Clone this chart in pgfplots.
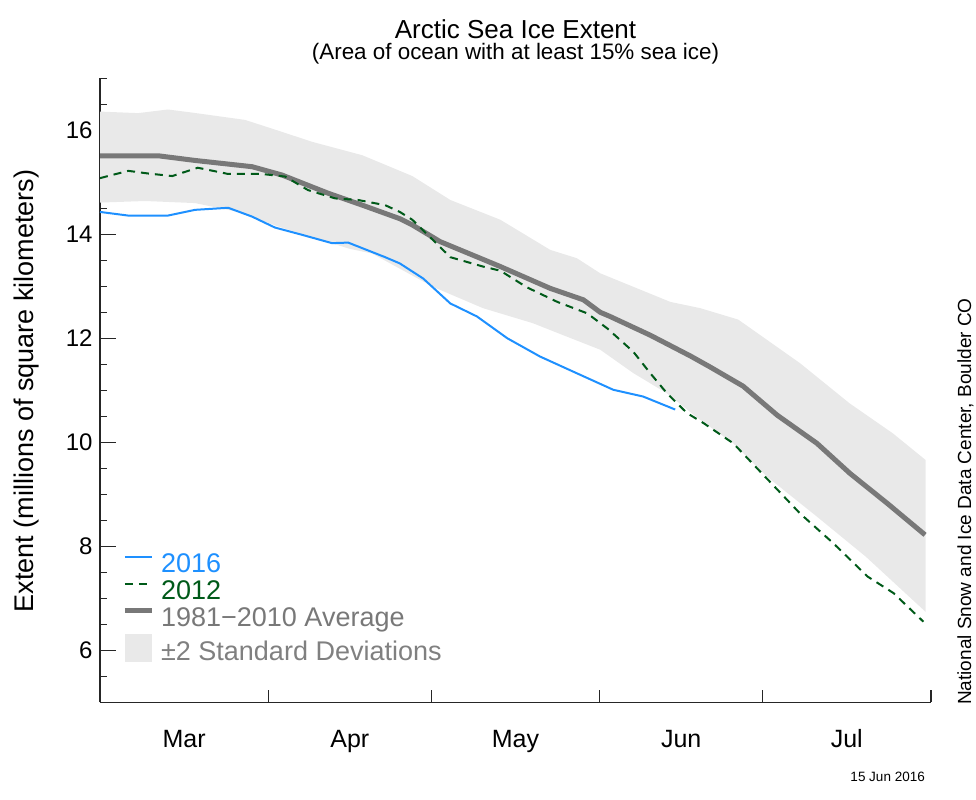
\documentclass[border=0pt]{standalone}
\usepackage{pgfplots}
\pgfplotsset{compat=1.18}
\usepackage{pgfplotstable}
\usepgfplotslibrary{fillbetween}
\usepackage{fontspec}
\setmainfont{Liberation Sans}

\definecolor{c2016}{RGB}{30,144,255}
\definecolor{c2012}{RGB}{0,90,25}
\definecolor{cavg}{RGB}{120,120,120}
\definecolor{cband}{RGB}{233,233,233}
\definecolor{csd}{RGB}{128,128,128}

\pgfplotstableread{
d v
0 15.51
10.7 15.51
17.5 15.42
28.0 15.30
33.5 15.14
42.0 14.79
48.3 14.56
55.2 14.30
57.5 14.18
62.6 13.86
73.7 13.38
82.9 12.96
89.0 12.74
92.1 12.50
93.9 12.42
101.3 12.06
108.7 11.66
112.3 11.45
118.4 11.08
124.7 10.52
132 9.98
138.1 9.40
144.9 8.83
151.9 8.22
}\avgtab

\pgfplotstableread{
d v
0 16.36
7 16.33
12.5 16.40
17 16.34
26.7 16.20
33.5 15.97
39.0 15.78
48.3 15.52
57.5 15.12
64.5 14.66
73.7 14.28
82.9 13.70
87.8 13.54
92.1 13.25
98.2 12.99
105 12.70
110.5 12.58
117.5 12.36
122.8 11.97
128.9 11.52
138 10.75
146 10.17
152 9.66
}\uptab

\pgfplotstableread{
d v
0 14.61
8.3 14.64
17.5 14.60
25.4 14.43
32.8 14.15
42.0 13.85
46.0 13.72
50.1 13.63
61.3 12.99
70.5 12.58
79.7 12.29
86.0 12.03
92.1 11.78
98.2 11.33
104.4 10.94
110.5 10.43
116.6 9.98
122.8 9.34
132 8.57
141 7.80
152 6.74
}\lotab

\pgfplotstableread{
d v
0 14.43
5.2 14.36
12.5 14.36
17.5 14.47
23.6 14.51
28.0 14.34
32.2 14.13
37.2 13.99
42.7 13.83
45.7 13.84
52.5 13.56
55.2 13.44
59.5 13.15
64.5 12.67
69.4 12.42
75.0 12.00
81.0 11.65
87.1 11.36
94.5 11.01
100.0 10.88
105.9 10.63
}\tabsixteen

\pgfplotstableread{
d v
0 15.08
5.2 15.22
8.8 15.17
13.3 15.12
18.0 15.28
23.6 15.16
29.8 15.16
34.1 15.11
38.3 14.85
43.3 14.69
47.5 14.66
52.5 14.56
55.2 14.43
57.5 14.28
61.3 13.89
64.5 13.56
70.5 13.38
73.7 13.30
78.6 12.98
84.2 12.70
89.7 12.48
93.4 12.19
98.2 11.74
101.3 11.33
104.4 10.94
108.1 10.56
111.1 10.37
116.6 9.98
122.8 9.30
128.9 8.63
135 8.06
141.3 7.42
146.1 7.10
151.6 6.55
}\tabtwelve

\begin{document}
\begin{tikzpicture}
\begin{axis}[
  at={(100bp,97.7bp)}, anchor=south west,
  scale only axis, width=831bp, height=624bp,
  xmin=0, xmax=153, ymin=5, ymax=17,
  axis x line*=bottom, axis y line*=left,
  axis line style={line width=1.4bp, black!85},
  clip=false,
  /pgf/number format/assume math mode=true,
  tick align=inside,
  major tick length=16bp, minor tick length=7bp,
  tick style={line width=1.3bp, black!85},
  xtick={15.5,46,76.5,107,137.5},
  xticklabels={Mar,Apr,May,Jun,Jul},
  xtick style={draw=none},
  extra x ticks={31,61,92,122,153},
  extra x tick labels={},
  extra x tick style={major tick length=12bp, xtick style={draw=black!85, line width=1.3bp}},
  xticklabel style={font=\fontsize{25bp}{25bp}\selectfont, yshift=-24bp},
  ytick={6,8,10,12,14,16},
  minor ytick={5.5,6,...,17},
  yticklabel style={font=\fontsize{24bp}{24bp}\selectfont, xshift=-4bp},
  legend cell align=left,
  reverse legend,
  legend style={at={(0.027,0.2393)}, anchor=north west, draw=none, fill=none,
    inner sep=0pt, outer sep=0pt, row sep=0pt,
    font=\fontsize{27bp}{27bp}\selectfont,
    nodes={inner sep=0pt, text height=19.5bp, text depth=7.5bp},
    /tikz/every odd column/.append style={column sep=7bp}},
]
\addplot[name path=up, draw=none, forget plot] table[x=d,y=v] {\uptab};
\addplot[name path=lo, draw=none, forget plot] table[x=d,y=v] {\lotab};
\addplot[fill=cband, draw=none,
  legend image code/.code={\fill[cband] (0bp,-7.5bp) rectangle (26.7bp,21bp);}]
  fill between[of=up and lo];
\addlegendentry{\textcolor{csd}{±2 Standard Deviations}}
\addplot[cavg, line width=5bp,
  legend image code/.code={\draw[cavg, line width=5bp] (0bp,9.7bp) -- (26.7bp,9.7bp);}]
  table[x=d,y=v] {\avgtab};
\addlegendentry{\textcolor{cavg}{1981−2010 Average}}
\addplot[c2012, line width=2bp, dash pattern=on 8bp off 6bp,
  legend image code/.code={\draw[c2012, line width=2bp, dash pattern=on 8bp off 6bp] (0bp,9.7bp) -- (26.7bp,9.7bp);}]
  table[x=d,y=v] {\tabtwelve};
\addlegendentry{\textcolor{c2012}{2012}}
\addplot[c2016, line width=2bp,
  legend image code/.code={\draw[c2016, line width=2bp] (0bp,9.7bp) -- (26.7bp,9.7bp);}]
  table[x=d,y=v] {\tabsixteen};
\addlegendentry{\textcolor{c2016}{2016}}
\end{axis}
\node[anchor=base, font=\fontsize{26bp}{26bp}\selectfont] at (515.5bp,761.7bp) {Arctic Sea Ice Extent};
\node[anchor=base, font=\fontsize{22.4bp}{22.4bp}\selectfont] at (515.5bp,740bp) {(Area of ocean with at least 15\% sea ice)};
\node[anchor=base, rotate=90, inner sep=0pt, font=\fontsize{27bp}{27bp}\selectfont] at (33bp,409bp) {Extent (millions of square kilometers)};
\node[anchor=base west, rotate=90, inner sep=0pt, font=\fontsize{19bp}{19bp}\selectfont] at (971bp,95bp) {National Snow and Ice Data Center, Boulder CO};
\node[anchor=base east, inner sep=0pt, font=\fontsize{13.5bp}{13.5bp}\selectfont] at (925bp,19bp) {15 Jun 2016};
\path (0,0) rectangle (976bp,800bp);
\end{tikzpicture}
\end{document}
